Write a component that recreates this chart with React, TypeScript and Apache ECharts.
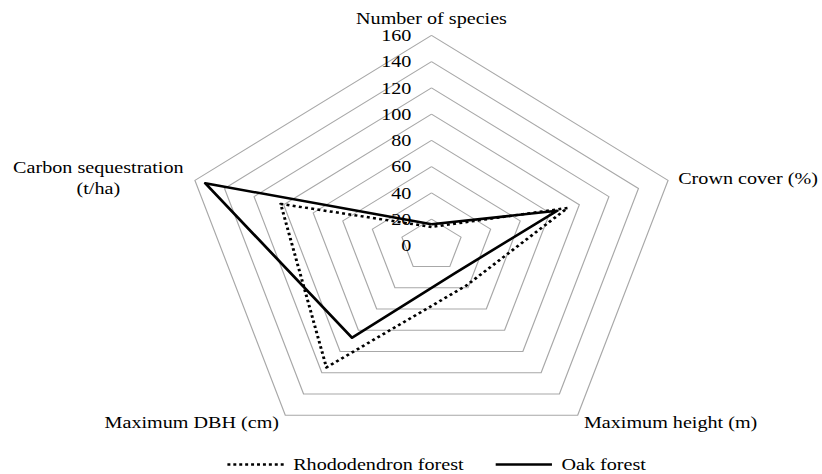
import React, { useEffect, useRef } from "react";
import * as echarts from "echarts";

// Indicators in ECharts order (counter-clockwise starting at the top)
const indicatorNames = [
  "Number of species",
  "Carbon sequestration\n(t/ha)",
  "Maximum DBH (cm)",
  "Maximum height (m)",
  "Crown cover (%)",
];
const indicatorMax = 160;
const splitCount = 8;

const seriesNames = ["Rhododendron forest", "Oak forest"];
const rhododendronValues = [14, 102, 115, 38, 92];
const oakValues = [16, 153, 87, 26, 85];

const FONT = "'Liberation Serif', 'DejaVu Serif', serif";
const BASE_W = 694;
const STRETCH = 822 / BASE_W;

const dotIcon =
  "path://" +
  Array.from({ length: 10 }, (_, i) => `M${i * 5},0h2.5v2.5h-2.5Z`).join(" ");
const solidIcon = "path://M0,0h47.5v2.5h-47.5Z";

export default function App() {
  const ref = useRef<HTMLDivElement>(null);

  useEffect(() => {
    if (!ref.current) return;
    const chart = echarts.init(ref.current, undefined, { renderer: "svg" });
    chart.setOption({
      animation: false,
      backgroundColor: "#ffffff",
      textStyle: { fontFamily: FONT },
      legend: {
        left: 187,
        top: 451,
        itemWidth: 47.5,
        itemHeight: 2.5,
        itemGap: 27,
        textStyle: {
          fontFamily: FONT,
          fontSize: 17,
          lineHeight: 17,
          color: "#000",
          padding: [0, 0, 0, 3],
        },
        itemStyle: { borderWidth: 0 },
        data: [
          { name: seriesNames[0], icon: dotIcon },
          { name: seriesNames[1], icon: solidIcon },
        ],
      },
      radar: {
        center: [364.3, 245.3],
        radius: 210,
        startAngle: 90,
        shape: "polygon",
        splitNumber: splitCount,
        nameGap: 9,
        axisName: {
          color: "#000",
          fontFamily: FONT,
          fontSize: 17,
          formatter: (name: string) =>
            name.indexOf("\n") >= 0
              ? name
                  .split("\n")
                  .map((s) => `{c|${s}}`)
                  .join("\n")
              : name,
          rich: {
            c: { width: 146, align: "center", fontFamily: FONT, fontSize: 17, color: "#000", lineHeight: 21 },
          },
        },
        axisLine: { show: false },
        axisTick: { show: false },
        axisLabel: { show: false },
        splitArea: { show: false },
        splitLine: { lineStyle: { color: "#a8a8a8", width: 1 } },
        indicator: indicatorNames.map((name, i) => ({
          name,
          min: 0,
          max: indicatorMax,
          ...(i === 0
            ? {
                axisLabel: {
                  show: true,
                  color: "#000",
                  fontFamily: FONT,
                  fontSize: 17,
                  margin: 17,
                },
              }
            : {}),
        })),
      },
      series: [
        {
          type: "radar",
          symbol: "none",
          color: "#000",
          itemStyle: { color: "#000" },
          data: [
            {
              name: seriesNames[0],
              value: rhododendronValues,
              lineStyle: { color: "#000", width: 2.5, type: [2.5, 2.8], cap: "butt" },
            },
            {
              name: seriesNames[1],
              value: oakValues,
              lineStyle: { color: "#000", width: 2.5, type: "solid" },
            },
          ],
        },
      ],
    });
    return () => chart.dispose();
  }, []);

  return (
    <div
      style={{
        position: "fixed",
        left: 0,
        top: 0,
        width: 822,
        height: 474,
        overflow: "hidden",
        background: "#fff",
      }}
    >
      <div
        ref={ref}
        style={{
          width: BASE_W,
          height: 474,
          transform: `scaleX(${STRETCH})`,
          transformOrigin: "0 0",
        }}
      />
    </div>
  );
}
